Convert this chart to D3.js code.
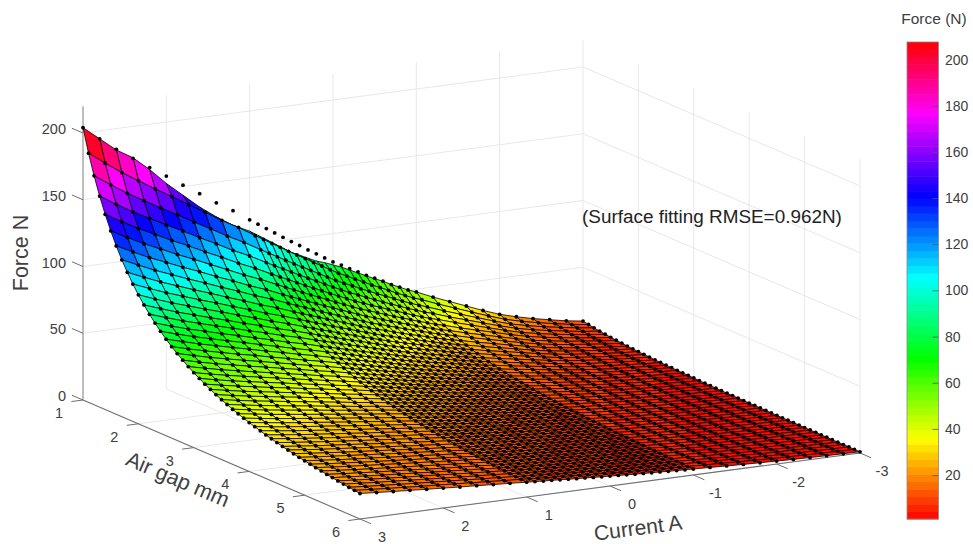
<!DOCTYPE html>
<html>
<head>
<meta charset="utf-8">
<script src="https://cdn.jsdelivr.net/npm/d3@7"></script>
<style>
  html, body { margin: 0; padding: 0; background: #fff; }
  text { font-family: "Liberation Sans", Arial, sans-serif; fill: #404040; }
</style>
</head>
<body>
<div id="chart"></div>
<script>
// values
var gapTicks = [1, 2, 3, 4, 5, 6];
var currentTicks = [3, 2, 1, 0, -1, -2, -3];
var forceTicks = [0, 50, 100, 150, 200];
var barTicks = [20, 40, 60, 80, 100, 120, 140, 160, 180, 200];

var gaps = [1, 1.1, 1.2, 1.3, 1.4, 1.5, 1.6, 1.7, 1.8, 1.9, 2, 2.1, 2.2, 2.3, 2.4, 2.5, 2.6, 2.7, 2.8, 2.9, 3, 3.1, 3.2, 3.3, 3.4, 3.5, 3.6, 3.7, 3.8, 3.9, 4, 4.1, 4.2, 4.3, 4.4, 4.5, 4.6, 4.7, 4.8, 4.9, 5, 5.1, 5.2, 5.3, 5.4, 5.5, 5.6, 5.7, 5.8, 5.9, 6];
var currents = [3, 2.8, 2.6, 2.4, 2.2, 2, 1.8, 1.6, 1.4, 1.2, 1, 0.9, 0.8, 0.7, 0.6, 0.5, 0.4, 0.3, 0.2, 0.1, 0, -0.1, -0.2, -0.3, -0.4, -0.5, -0.6, -0.7, -0.8, -0.9, -1, -1.2, -1.4, -1.6, -1.8, -2, -2.2, -2.4, -2.6, -2.8, -3];

// measured points on the first row (gap 1 mm), they sit above the fitted edge
var measuredFirstRow = [204, 194, 184.5, 176, 167.5, 159.5, 151, 143, 134.5, 127, 118.5, 114.4, 110.3, 106.2, 102.1, 98.1, 94.3, 90.2, 86.4, 82.5, 78.7, 75.5, 72, 68.8, 65.4, 62.4, 59.3, 56, 53.2, 50.3, 48, 42.5, 37.5, 32.5, 27.5, 23, 19.5, 16.5, 14, 11.5, 9.7];

// force per gap row, one column per current
var forceRows = [
  [204,194,184,176.5,166,154,143.5,133,124,116,110,106,102,98,94,90,87,84,81,79,76.5,74,71,68,65,62,59.3,56,53.2,50.3,48,42.5,37.5,32.5,27.5,23,19.5,16.5,14,11.5,9.7],
  [186.7,177.5,168.8,161,153.3,145.9,138.2,130.8,123.1,116.2,108.4,104.7,100.9,97.2,93.4,89.8,86.3,82.5,79.1,75.5,72,69.1,65.9,63,59.8,57.1,54.3,51.2,48.7,46,43.9,38.9,34.3,29.7,25.2,21,17.8,15.1,12.8,10.5,8.9],
  [171.5,163.1,155.1,147.9,140.8,134.1,126.9,120.2,113.1,106.8,99.6,96.2,92.7,89.3,85.8,82.5,79.3,75.8,72.6,69.3,66.2,63.5,60.5,57.8,55,52.5,49.8,47.1,44.7,42.3,40.3,35.7,31.5,27.3,23.1,19.3,16.4,13.9,11.8,9.7,8.2],
  [158.1,150.3,143,136.4,129.8,123.6,117,110.8,104.2,98.4,91.8,88.6,85.5,82.3,79.1,76,73.1,69.9,66.9,63.9,61,58.5,55.8,53.3,50.7,48.3,45.9,43.4,41.2,39,37.2,32.9,29.1,25.2,21.3,17.8,15.1,12.8,10.8,8.9,7.5],
  [146.2,139,132.2,126.1,120,114.3,108.2,102.5,96.4,91,84.9,82,79,76.1,73.2,70.3,67.6,64.6,61.9,59.1,56.4,54.1,51.6,49.3,46.9,44.7,42.5,40.1,38.1,36,34.4,30.5,26.9,23.3,19.7,16.5,14,11.8,10,8.2,7],
  [135.6,128.9,122.6,117,111.3,106,100.4,95,89.4,84.4,78.8,76,73.3,70.6,67.9,65.2,62.7,59.9,57.4,54.8,52.3,50.2,47.9,45.7,43.5,41.5,39.4,37.2,35.4,33.4,31.9,28.2,24.9,21.6,18.3,15.3,13,11,9.3,7.6,6.4],
  [126.1,119.9,114,108.8,103.5,98.6,93.3,88.4,83.1,78.5,73.2,70.7,68.2,65.6,63.1,60.6,58.3,55.7,53.4,51,48.6,46.7,44.5,42.5,40.4,38.6,36.6,34.6,32.9,31.1,29.7,26.3,23.2,20.1,17,14.2,12.1,10.2,8.7,7.1,6],
  [117.5,111.8,106.3,101.4,96.5,91.9,87,82.4,77.5,73.2,68.3,65.9,63.6,61.2,58.8,56.5,54.3,52,49.8,47.5,45.3,43.5,41.5,39.6,37.7,36,34.2,32.3,30.7,29,27.7,24.5,21.6,18.7,15.8,13.3,11.2,9.5,8.1,6.6,5.6],
  [109.9,104.5,99.4,94.8,90.2,85.9,81.3,77,72.4,68.4,63.8,61.6,59.4,57.2,55,52.8,50.8,48.6,46.5,44.4,42.4,40.7,38.8,37,35.2,33.6,31.9,30.2,28.6,27.1,25.8,22.9,20.2,17.5,14.8,12.4,10.5,8.9,7.5,6.2,5.2],
  [102.9,97.9,93.1,88.8,84.5,80.5,76.2,72.1,67.8,64.1,59.8,57.7,55.6,53.6,51.5,49.5,47.6,45.5,43.6,41.6,39.7,38.1,36.3,34.7,33,31.5,29.9,28.2,26.8,25.4,24.2,21.4,18.9,16.4,13.9,11.6,9.8,8.3,7.1,5.8,4.9],
  [96.6,91.8,87.3,83.3,79.3,75.5,71.5,67.7,63.7,60.1,56.1,54.2,52.2,50.3,48.3,46.4,44.6,42.7,40.9,39.1,37.3,35.7,34.1,32.6,31,29.5,28.1,26.5,25.2,23.8,22.7,20.1,17.8,15.4,13,10.9,9.2,7.8,6.6,5.4,4.6],
  [90.8,86.4,82.1,78.4,74.6,71,67.2,63.7,59.9,56.5,52.8,50.9,49.1,47.3,45.5,43.7,42,40.2,38.5,36.7,35,33.6,32.1,30.6,29.1,27.8,26.4,24.9,23.7,22.4,21.4,18.9,16.7,14.5,12.2,10.2,8.7,7.3,6.2,5.1,4.3],
  [85.6,81.4,77.4,73.8,70.3,66.9,63.3,60,56.4,53.3,49.7,48,46.3,44.6,42.8,41.2,39.6,37.8,36.2,34.6,33,31.7,30.2,28.9,27.4,26.2,24.9,23.5,22.3,21.1,20.1,17.8,15.7,13.6,11.5,9.6,8.2,6.9,5.9,4.8,4.1],
  [80.8,76.8,73,69.7,66.3,63.1,59.8,56.6,53.2,50.3,46.9,45.3,43.7,42,40.4,38.8,37.3,35.7,34.2,32.7,31.2,29.9,28.5,27.2,25.9,24.7,23.5,22.2,21.1,19.9,19,16.8,14.8,12.9,10.9,9.1,7.7,6.5,5.5,4.6,3.8],
  [76.4,72.6,69.1,65.9,62.7,59.7,56.5,53.5,50.3,47.5,44.4,42.8,41.3,39.8,38.2,36.7,35.3,33.8,32.3,30.9,29.5,28.3,26.9,25.8,24.5,23.4,22.2,21,19.9,18.8,18,15.9,14,12.2,10.3,8.6,7.3,6.2,5.2,4.3,3.6],
  [72.3,68.8,65.4,62.4,59.4,56.5,53.5,50.7,47.7,45,42,40.5,39.1,37.6,36.2,34.8,33.4,32,30.6,29.2,27.9,26.8,25.5,24.4,23.2,22.1,21,19.8,18.9,17.8,17,15.1,13.3,11.5,9.7,8.2,6.9,5.8,5,4.1,3.4],
  [68.5,65.1,62,59.1,56.2,53.6,50.7,48,45.2,42.6,39.8,38.4,37,35.7,34.3,32.9,31.7,30.3,29,27.7,26.4,25.4,24.2,23.1,22,21,19.9,18.8,17.9,16.9,16.1,14.3,12.6,10.9,9.2,7.7,6.5,5.5,4.7,3.9,3.3],
  [65.1,61.9,58.8,56.1,53.4,50.9,48.2,45.6,42.9,40.5,37.8,36.5,35.2,33.9,32.6,31.3,30.1,28.8,27.6,26.3,25.1,24.1,23,21.9,20.9,19.9,18.9,17.9,17,16,15.3,13.6,12,10.4,8.8,7.3,6.2,5.3,4.5,3.7,3.1],
  [61.9,58.8,55.9,53.4,50.8,48.4,45.8,43.4,40.8,38.5,35.9,34.7,33.4,32.2,31,29.7,28.6,27.3,26.2,25,23.9,22.9,21.8,20.9,19.8,18.9,18,17,16.1,15.3,14.6,12.9,11.4,9.9,8.3,7,5.9,5,4.2,3.5,2.9],
  [58.9,56,53.2,50.8,48.3,46,43.6,41.3,38.8,36.7,34.2,33,31.8,30.6,29.5,28.3,27.2,26,24.9,23.8,22.7,21.8,20.8,19.9,18.9,18,17.1,16.2,15.4,14.5,13.9,12.3,10.8,9.4,7.9,6.6,5.6,4.8,4,3.3,2.8],
  [56.1,53.4,50.8,48.4,46.1,43.9,41.5,39.3,37,34.9,32.6,31.5,30.3,29.2,28.1,27,25.9,24.8,23.8,22.7,21.7,20.8,19.8,18.9,18,17.2,16.3,15.4,14.6,13.8,13.2,11.7,10.3,8.9,7.6,6.3,5.4,4.5,3.9,3.2,2.7],
  [53.6,50.9,48.4,46.2,44,41.9,39.6,37.5,35.3,33.3,31.1,30,29,27.9,26.8,25.8,24.8,23.7,22.7,21.7,20.7,19.8,18.9,18.1,17.2,16.4,15.6,14.7,14,13.2,12.6,11.2,9.8,8.5,7.2,6,5.1,4.3,3.7,3,2.5],
  [51.1,48.6,46.3,44.1,42,40,37.9,35.9,33.7,31.8,29.7,28.7,27.7,26.6,25.6,24.6,23.6,22.6,21.7,20.7,19.7,18.9,18.1,17.2,16.4,15.6,14.9,14,13.3,12.6,12,10.7,9.4,8.1,6.9,5.8,4.9,4.1,3.5,2.9,2.4],
  [48.9,46.5,44.2,42.2,40.2,38.2,36.2,34.3,32.2,30.4,28.4,27.4,26.4,25.5,24.5,23.5,22.6,21.6,20.7,19.8,18.9,18.1,17.3,16.5,15.7,15,14.2,13.4,12.8,12.1,11.5,10.2,9,7.8,6.6,5.5,4.7,4,3.4,2.8,2.3],
  [46.8,44.5,42.3,40.4,38.4,36.6,34.6,32.8,30.8,29.1,27.2,26.2,25.3,24.4,23.4,22.5,21.6,20.7,19.8,18.9,18,17.3,16.5,15.8,15,14.3,13.6,12.8,12.2,11.5,11,9.7,8.6,7.5,6.3,5.3,4.5,3.8,3.2,2.6,2.2],
  [44.8,42.6,40.5,38.7,36.8,35,33.2,31.4,29.5,27.9,26,25.1,24.2,23.3,22.4,21.6,20.7,19.8,19,18.1,17.3,16.6,15.8,15.1,14.4,13.7,13,12.3,11.7,11.1,10.5,9.3,8.2,7.1,6,5.1,4.3,3.6,3.1,2.5,2.1],
  [43,40.9,38.9,37.1,35.3,33.6,31.8,30.1,28.3,26.8,25,24.1,23.2,22.4,21.5,20.7,19.9,19,18.2,17.4,16.6,15.9,15.2,14.5,13.8,13.1,12.5,11.8,11.2,10.6,10.1,9,7.9,6.8,5.8,4.8,4.1,3.5,2.9,2.4,2],
  [41.2,39.2,37.3,35.6,33.9,32.3,30.5,28.9,27.2,25.7,24,23.1,22.3,21.5,20.6,19.8,19.1,18.2,17.5,16.7,15.9,15.3,14.6,13.9,13.2,12.6,12,11.3,10.8,10.2,9.7,8.6,7.6,6.6,5.6,4.7,3.9,3.3,2.8,2.3,2],
  [39.6,37.7,35.8,34.2,32.5,31,29.3,27.8,26.1,24.7,23,22.2,21.4,20.6,19.8,19.1,18.3,17.5,16.8,16,15.3,14.7,14,13.4,12.7,12.1,11.5,10.9,10.3,9.8,9.3,8.3,7.3,6.3,5.3,4.5,3.8,3.2,2.7,2.2,1.9],
  [38.1,36.2,34.4,32.9,31.3,29.8,28.2,26.7,25.1,23.7,22.1,21.4,20.6,19.8,19.1,18.3,17.6,16.8,16.1,15.4,14.7,14.1,13.4,12.8,12.2,11.7,11.1,10.5,9.9,9.4,9,7.9,7,6.1,5.1,4.3,3.6,3.1,2.6,2.1,1.8],
  [36.6,34.8,33.1,31.6,30.1,28.6,27.1,25.7,24.2,22.8,21.3,20.5,19.8,19.1,18.3,17.6,16.9,16.2,15.5,14.8,14.1,13.6,12.9,12.4,11.7,11.2,10.7,10.1,9.6,9,8.6,7.6,6.7,5.8,4.9,4.1,3.5,3,2.5,2.1,1.7],
  [35.3,33.5,31.9,30.4,29,27.6,26.1,24.7,23.3,22,20.5,19.8,19.1,18.4,17.7,17,16.3,15.6,14.9,14.3,13.6,13.1,12.4,11.9,11.3,10.8,10.3,9.7,9.2,8.7,8.3,7.3,6.5,5.6,4.8,4,3.4,2.9,2.4,2,1.7],
  [34,32.3,30.7,29.3,27.9,26.6,25.1,23.8,22.4,21.1,19.7,19,18.4,17.7,17,16.3,15.7,15,14.4,13.7,13.1,12.6,12,11.5,10.9,10.4,9.9,9.3,8.9,8.4,8,7.1,6.2,5.4,4.6,3.8,3.2,2.7,2.3,1.9,1.6],
  [32.7,31.1,29.6,28.2,26.9,25.6,24.2,23,21.6,20.4,19,18.4,17.7,17,16.4,15.7,15.1,14.5,13.9,13.2,12.6,12.1,11.6,11,10.5,10,9.5,9,8.5,8.1,7.7,6.8,6,5.2,4.4,3.7,3.1,2.6,2.2,1.8,1.6],
  [31.6,30,28.6,27.2,25.9,24.7,23.4,22.1,20.8,19.7,18.3,17.7,17.1,16.4,15.8,15.2,14.6,14,13.4,12.8,12.2,11.7,11.1,10.7,10.1,9.7,9.2,8.7,8.2,7.8,7.4,6.6,5.8,5,4.3,3.6,3,2.6,2.2,1.8,1.5],
  [30.5,29,27.6,26.3,25,23.8,22.6,21.4,20.1,19,17.7,17.1,16.5,15.9,15.3,14.7,14.1,13.5,12.9,12.3,11.8,11.3,10.8,10.3,9.8,9.3,8.9,8.4,7.9,7.5,7.2,6.3,5.6,4.9,4.1,3.4,2.9,2.5,2.1,1.7,1.4],
  [29.4,28,26.6,25.4,24.2,23,21.8,20.6,19.4,18.3,17.1,16.5,15.9,15.3,14.7,14.2,13.6,13,12.5,11.9,11.4,10.9,10.4,9.9,9.4,9,8.6,8.1,7.7,7.3,6.9,6.1,5.4,4.7,4,3.3,2.8,2.4,2,1.7,1.4],
  [28.5,27.1,25.7,24.6,23.4,22.3,21.1,19.9,18.8,17.7,16.5,16,15.4,14.8,14.2,13.7,13.2,12.6,12.1,11.5,11,10.5,10,9.6,9.1,8.7,8.3,7.8,7.4,7,6.7,5.9,5.2,4.5,3.8,3.2,2.7,2.3,2,1.6,1.4],
  [27.5,26.2,24.9,23.7,22.6,21.5,20.4,19.3,18.1,17.1,16,15.4,14.9,14.3,13.8,13.2,12.7,12.2,11.7,11.1,10.6,10.2,9.7,9.3,8.8,8.4,8,7.6,7.2,6.8,6.5,5.7,5.1,4.4,3.7,3.1,2.6,2.2,1.9,1.6,1.3],
  [26.6,25.3,24.1,23,21.9,20.8,19.7,18.7,17.6,16.6,15.5,14.9,14.4,13.9,13.3,12.8,12.3,11.8,11.3,10.8,10.3,9.9,9.4,9,8.5,8.1,7.7,7.3,6.9,6.6,6.3,5.5,4.9,4.2,3.6,3,2.5,2.2,1.8,1.5,1.3],
  [25.8,24.5,23.3,22.2,21.2,20.2,19.1,18.1,17,16.1,15,14.5,13.9,13.4,12.9,12.4,11.9,11.4,10.9,10.4,9.9,9.5,9.1,8.7,8.3,7.9,7.5,7.1,6.7,6.4,6.1,5.4,4.7,4.1,3.5,2.9,2.5,2.1,1.8,1.5,1.2],
  [25,23.7,22.6,21.5,20.5,19.5,18.5,17.5,16.5,15.5,14.5,14,13.5,13,12.5,12,11.5,11,10.6,10.1,9.6,9.2,8.8,8.4,8,7.6,7.3,6.9,6.5,6.2,5.9,5.2,4.6,4,3.4,2.8,2.4,2,1.7,1.4,1.2],
  [24.2,23,21.9,20.9,19.9,18.9,17.9,17,16,15.1,14.1,13.6,13.1,12.6,12.1,11.6,11.2,10.7,10.2,9.8,9.3,9,8.5,8.2,7.8,7.4,7,6.6,6.3,6,5.7,5,4.4,3.9,3.3,2.7,2.3,2,1.7,1.4,1.2],
  [23.5,22.3,21.2,20.2,19.3,18.3,17.4,16.4,15.5,14.6,13.6,13.2,12.7,12.2,11.7,11.3,10.8,10.4,9.9,9.5,9.1,8.7,8.3,7.9,7.5,7.2,6.8,6.4,6.1,5.8,5.5,4.9,4.3,3.7,3.2,2.6,2.2,1.9,1.6,1.3,1.1],
  [22.7,21.6,20.6,19.6,18.7,17.8,16.8,15.9,15,14.2,13.2,12.8,12.3,11.8,11.4,10.9,10.5,10.1,9.6,9.2,8.8,8.4,8,7.7,7.3,7,6.6,6.2,5.9,5.6,5.4,4.7,4.2,3.6,3.1,2.6,2.2,1.8,1.6,1.3,1.1],
  [22.1,21,20,19,18.1,17.3,16.3,15.5,14.6,13.7,12.8,12.4,11.9,11.5,11,10.6,10.2,9.8,9.3,8.9,8.5,8.2,7.8,7.4,7.1,6.8,6.4,6.1,5.8,5.4,5.2,4.6,4.1,3.5,3,2.5,2.1,1.8,1.5,1.2,1],
  [21.4,20.4,19.4,18.5,17.6,16.8,15.9,15,14.1,13.3,12.5,12,11.6,11.2,10.7,10.3,9.9,9.5,9.1,8.7,8.3,7.9,7.6,7.2,6.9,6.6,6.2,5.9,5.6,5.3,5,4.5,3.9,3.4,2.9,2.4,2,1.7,1.5,1.2,1],
  [20.8,19.8,18.8,18,17.1,16.3,15.4,14.6,13.7,13,12.1,11.7,11.3,10.8,10.4,10,9.6,9.2,8.8,8.4,8,7.7,7.3,7,6.7,6.4,6,5.7,5.4,5.1,4.9,4.3,3.8,3.3,2.8,2.3,2,1.7,1.4,1.2,1],
  [20.2,19.2,18.3,17.4,16.6,15.8,15,14.2,13.3,12.6,11.7,11.3,10.9,10.5,10.1,9.7,9.3,8.9,8.6,8.2,7.8,7.5,7.1,6.8,6.5,6.2,5.9,5.5,5.3,5,4.8,4.2,3.7,3.2,2.7,2.3,1.9,1.6,1.4,1.1,1],
  [19.7,18.7,17.8,17,16.1,15.4,14.6,13.8,13,12.2,11.4,11,10.6,10.2,9.8,9.5,9.1,8.7,8.3,8,7.6,7.3,6.9,6.6,6.3,6,5.7,5.4,5.1,4.8,4.6,4.1,3.6,3.1,2.7,2.2,1.9,1.6,1.3,1.1,0.9],
  [19.1,18.2,17.3,16.5,15.7,14.9,14.1,13.4,12.6,11.9,11.1,10.7,10.3,10,9.6,9.2,8.8,8.5,8.1,7.7,7.4,7.1,6.7,6.4,6.1,5.8,5.6,5.2,5,4.7,4.5,4,3.5,3,2.6,2.2,1.8,1.5,1.3,1.1,0.9]
];

var colorValues = [1.2, 36, 71, 106, 141, 177, 208];
var colorStops = ["#ff0000", "#ffff00", "#00ff00", "#00ffff", "#0000ff", "#ff00ff", "#ff0000"];

var width = 973;
var height = 544;
var origin = {x: 83, y: 400};
var forceMax = 220;

// the view is orthographic, so each data axis is one screen vector
var gapX = d3.scaleLinear().domain([1, 6]).range([0, 277]);
var gapY = d3.scaleLinear().domain([1, 6]).range([0, 119]);
var curX = d3.scaleLinear().domain([3, -3]).range([0, 500]);
var curY = d3.scaleLinear().domain([3, -3]).range([0, -66]);
var forceY = d3.scaleLinear().domain([0, 200]).range([0, -267]);

function px(g, c) { return origin.x + gapX(g) + curX(c); }
function py(g, c, f) { return origin.y + gapY(g) + curY(c) + forceY(f); }

var ramp = d3.scaleLinear().domain(colorValues).range(colorStops).clamp(true);
// 64 flat levels like the colormap in the bar
var levels = d3.range(64).map(d => ramp(1.2 + (d + 0.5) * (208 - 1.2) / 64));
var color = d3.scaleQuantize().domain([1.2, 208]).range(levels);

var svg = d3.select('#chart')
  .append('svg')
  .attr('width', width)
  .attr('height', height);

// walls and floor grid
var gridLines = [];
forceTicks.slice(1).forEach(f => {
  gridLines.push([[1, 3, f], [1, -3, f]]);
  gridLines.push([[1, -3, f], [6, -3, f]]);
});
gapTicks.slice(1).forEach(g => {
  gridLines.push([[g, 3, 0], [g, -3, 0]]);
  gridLines.push([[g, -3, 0], [g, -3, forceMax]]);
});
currentTicks.forEach(c => {
  if (c != 3) gridLines.push([[1, c, 0], [1, c, forceMax]]);
  if (c != 3) gridLines.push([[1, c, 0], [6, c, 0]]);
});

svg.append('g')
  .selectAll('line')
  .data(gridLines)
  .join('line')
  .attr('x1', d => px(d[0][0], d[0][1]))
  .attr('y1', d => py(d[0][0], d[0][1], d[0][2]))
  .attr('x2', d => px(d[1][0], d[1][1]))
  .attr('y2', d => py(d[1][0], d[1][1], d[1][2]))
  .style('stroke', '#e8e8e8')
  .style('stroke-width', 1);

// axes
var axisLines = [
  {a: [1, 3, 0], b: [6, 3, 0], w: 1.1, c: '#6e6e6e'},
  {a: [6, 3, 0], b: [6, -3, 0], w: 1.1, c: '#6e6e6e'},
  {a: [1, 3, 0], b: [1, 3, forceMax], w: 1.5, c: '#a8a8a8'}
];
forceTicks.forEach(f => axisLines.push({a: [1, 3, f], b: [0.8, 3, f], w: 1, c: '#6e6e6e'}));
gapTicks.forEach(g => axisLines.push({a: [g, 3, 0], b: [g, 3.14, 0], w: 1, c: '#6e6e6e'}));
currentTicks.forEach(c => axisLines.push({a: [6, c, 0], b: [6.2, c, 0], w: 1, c: '#6e6e6e'}));

svg.append('g')
  .selectAll('line')
  .data(axisLines)
  .join('line')
  .attr('x1', d => px(d.a[0], d.a[1]))
  .attr('y1', d => py(d.a[0], d.a[1], d.a[2]))
  .attr('x2', d => px(d.b[0], d.b[1]))
  .attr('y2', d => py(d.b[0], d.b[1], d.b[2]))
  .style('stroke', d => d.c)
  .style('stroke-width', d => d.w);

// surface cells, far corner first
var cells = [];
for (var j = currents.length - 2; j >= 0; j--) {
  for (var i = 0; i < gaps.length - 1; i++) {
    cells.push({i: i, j: j});
  }
}

var cellLine = d3.line();

svg.append('g')
  .selectAll('path')
  .data(cells)
  .join('path')
  .attr('d', d => {
    var corners = [[d.i, d.j], [d.i + 1, d.j], [d.i + 1, d.j + 1], [d.i, d.j + 1]];
    return cellLine(corners.map(k => [
      px(gaps[k[0]], currents[k[1]]),
      py(gaps[k[0]], currents[k[1]], forceRows[k[0]][k[1]])
    ])) + 'Z';
  })
  // flat shading takes the colour of the first corner
  .style('fill', d => color(forceRows[d.i][d.j]))
  .style('stroke', '#000')
  .style('stroke-width', 0.8)
  .style('stroke-linejoin', 'round');

// measured points
var points = [];
gaps.forEach((g, i) => {
  currents.forEach((c, j) => {
    points.push({g: g, c: c, f: i == 0 ? measuredFirstRow[j] : forceRows[i][j]});
  });
});

svg.append('g')
  .selectAll('circle')
  .data(points)
  .join('circle')
  .attr('cx', d => px(d.g, d.c))
  .attr('cy', d => py(d.g, d.c, d.f))
  .attr('r', 1.9)
  .style('fill', '#000');

// tick labels
svg.append('g')
  .selectAll('text')
  .data(gapTicks)
  .join('text')
  .attr('x', d => px(d, 3) - 24)
  .attr('y', d => py(d, 3, 0) + 18)
  .attr('text-anchor', 'middle')
  .style('font-size', '14.5px')
  .text(d => d);

svg.append('g')
  .selectAll('text')
  .data(currentTicks)
  .join('text')
  .attr('x', d => px(6, d) + 22)
  .attr('y', d => py(6, d, 0) + 23)
  .attr('text-anchor', 'middle')
  .style('font-size', '14.5px')
  .text(d => d);

svg.append('g')
  .selectAll('text')
  .data(forceTicks)
  .join('text')
  .attr('x', 66)
  .attr('y', d => py(1, 3, d) + 1)
  .attr('text-anchor', 'end')
  .style('font-size', '14.5px')
  .text(d => d);

// axis titles
svg.append('text')
  .attr('transform', 'translate(28,253) rotate(-90)')
  .attr('text-anchor', 'middle')
  .style('font-size', '21.5px')
  .text('Force N');

svg.append('text')
  .attr('transform', 'translate(175,486) rotate(23)')
  .attr('text-anchor', 'middle')
  .style('font-size', '21.5px')
  .text('Air gap mm');

svg.append('text')
  .attr('transform', 'translate(639,535) rotate(-7.5)')
  .attr('text-anchor', 'middle')
  .style('font-size', '21px')
  .text('Current A');

svg.append('text')
  .attr('x', 582)
  .attr('y', 223)
  .style('font-size', '18.9px')
  .style('fill', '#222')
  .text('(Surface fitting RMSE=0.962N)');

// colour bar
var barY = d3.scaleLinear().domain([1.2, 207.8]).range([519, 42]);
var barLeft = 907;
var barRight = 938.5;

svg.append('g')
  .selectAll('rect')
  .data(levels)
  .join('rect')
  .attr('x', barLeft)
  .attr('width', barRight - barLeft)
  .attr('y', (d, i) => barY(1.2 + (i + 1) * 206.6 / 64))
  .attr('height', 477 / 64 + 0.5)
  .style('fill', d => d);

svg.append('rect')
  .attr('x', barLeft)
  .attr('y', 42)
  .attr('width', barRight - barLeft)
  .attr('height', 477)
  .style('fill', 'none')
  .style('stroke', '#8a8a8a')
  .style('stroke-width', 0.8);

svg.append('g')
  .selectAll('line')
  .data(barTicks)
  .join('line')
  .attr('x1', barRight - 6)
  .attr('x2', barRight)
  .attr('y1', d => barY(d))
  .attr('y2', d => barY(d))
  .style('stroke', '#555')
  .style('stroke-width', 0.8);

svg.append('g')
  .selectAll('text')
  .data(barTicks)
  .join('text')
  .attr('x', 945)
  .attr('y', d => barY(d) + 4.5)
  .style('font-size', '14px')
  .text(d => d);

svg.append('text')
  .attr('x', 934)
  .attr('y', 24)
  .attr('text-anchor', 'middle')
  .style('font-size', '15.5px')
  .text('Force (N)');
</script>
</body>
</html>
